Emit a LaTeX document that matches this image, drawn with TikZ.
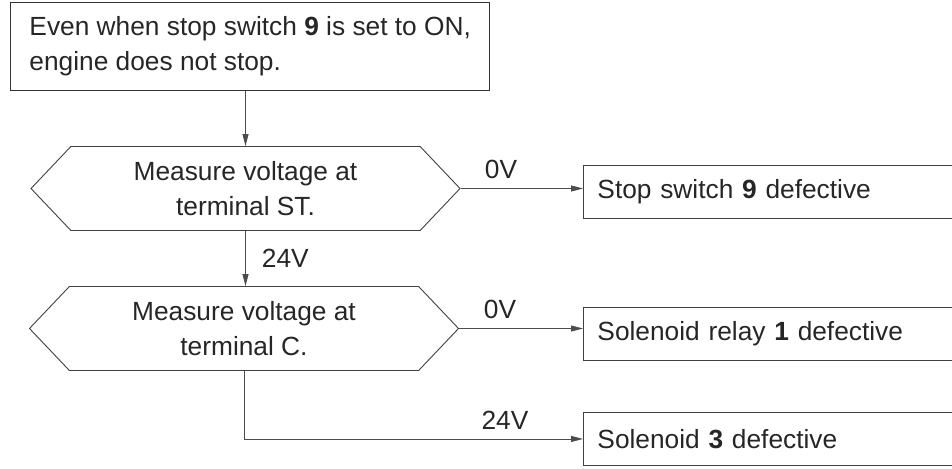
\documentclass[tikz,border=0pt]{standalone}
\usepackage{fontspec}
\setmainfont{Liberation Sans}
\usetikzlibrary{shapes.symbols,arrows.meta}
\begin{document}
\begin{tikzpicture}[x=1pt,y=1pt,
  every node/.style={font=\fontsize{26.3}{35}\selectfont, text=black!85},
  ln/.style={draw=black!70, line width=0.9pt},
  arr/.style={ln, -{Triangle[length=12pt,width=6pt]}},
  startbox/.style={draw=black!80, line width=1.4pt, rectangle, anchor=north west, minimum width=479pt, minimum height=88pt, align=left, inner xsep=17pt},
  res/.style={draw=black!75, line width=0.9pt, rectangle, anchor=north west, text width=352pt, inner xsep=14pt, minimum height=53pt, align=left},
  hexa/.style={draw=black!75, line width=0.9pt, signal, signal to=east and west, signal pointer angle=93, minimum width=429pt, minimum height=84pt, align=center, inner sep=0pt},
  lbl/.style={inner sep=0pt}]
\useasboundingbox (0,0) rectangle (952,-468);
\clip (0,0) rectangle (952,-468);
\node[startbox] (start) at (10,-2) {Even when stop switch \textbf{9} is set to ON,\\engine does not stop.};
\node[hexa] (h1) at (245.5,-188.5) {Measure voltage at\\terminal ST.};
\node[hexa] (h2) at (244,-328.5) {Measure voltage at\\terminal C.};
\node[res] (r1) at (583,-165) {Stop switch \textbf{9} defective};
\node[res] (r2) at (583,-307) {Solenoid relay \textbf{1} defective};
\node[res] (r3) at (583,-412) {Solenoid \textbf{3} defective};
\draw[arr] (h1.north |- start.south) -- (h1.north);
\draw[arr] (h1.south) -- node[lbl, right=16pt] {24V} (h1.south |- h2.north);
\draw[arr] (h1.east) -- node[lbl, pos=0.33, above=9pt] {0V} (r1.west |- h1.east);
\draw[arr] (h2.east) -- node[lbl, pos=0.33, above=9pt] {0V} (r2.west |- h2.east);
\draw[arr] (h2.south) |- (r3.west);
\node[lbl] (v3) at (505,-420) {24V};
\end{tikzpicture}
\end{document}
